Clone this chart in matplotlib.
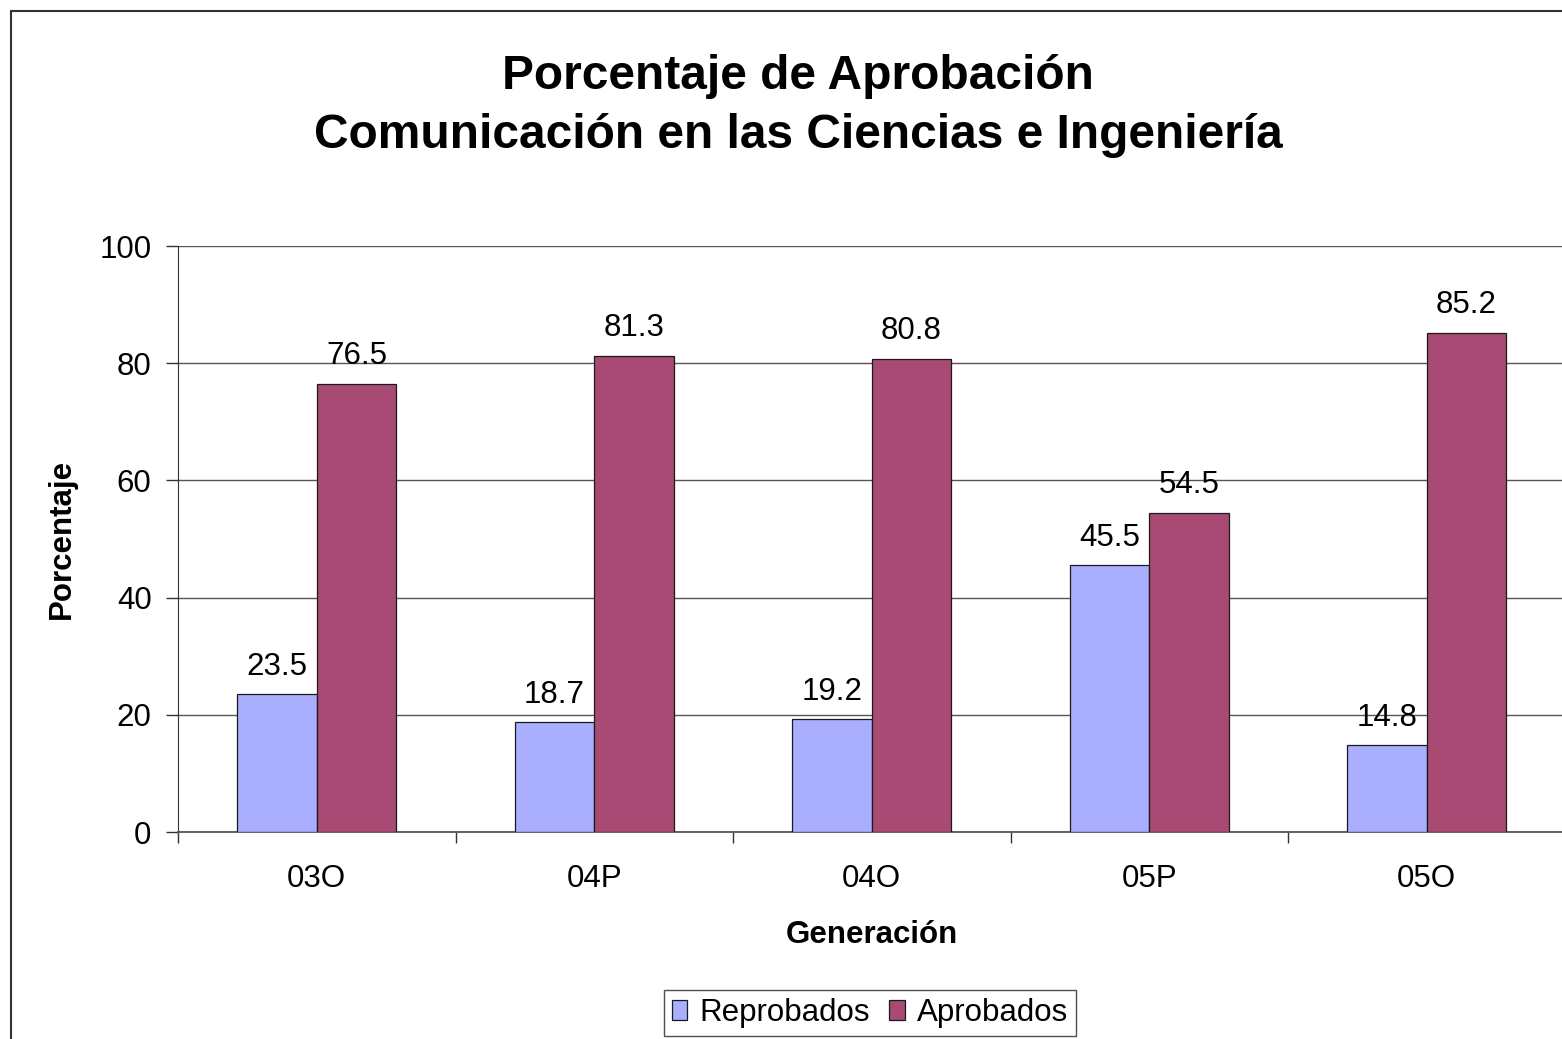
import numpy as np
import matplotlib
matplotlib.use("Agg")
import matplotlib.pyplot as plt
from matplotlib.patches import Rectangle

plt.rcParams['font.family'] = ['Liberation Sans', 'DejaVu Sans']

# data
generaciones = ['03O', '04P', '04O', '05P', '05O']
reprobados = [23.5, 18.7, 19.2, 45.5, 14.8]
aprobados = [76.5, 81.3, 80.8, 54.5, 85.2]

c_rep = '#A9AEFF'
c_apr = '#A94A74'

W, H = 1562, 1039
fig = plt.figure(figsize=(W / 100, H / 100), dpi=100)

# outer chart border (Excel style, runs off the right/bottom)
fig.patches.append(Rectangle((11 / W, -0.05), 1.2, 1 - 11 / H + 0.05,
                             transform=fig.transFigure, fill=False,
                             edgecolor='#333333', linewidth=1.5))

ax = fig.add_axes([178 / W, (H - 832) / H, 1387.5 / W, 586 / H])

x = np.arange(len(generaciones))
w = 1 / 3.5
b1 = ax.bar(x - w / 2, reprobados, w, color=c_rep, edgecolor='#1a1a1a',
            linewidth=0.9, label='Reprobados', zorder=3)
b2 = ax.bar(x + w / 2, aprobados, w, color=c_apr, edgecolor='#1a1a1a',
            linewidth=0.9, label='Aprobados', zorder=3)

for bars, vals in ((b1, reprobados), (b2, aprobados)):
    for r, v in zip(bars, vals):
        ax.annotate(f'{v:.1f}', (r.get_x() + r.get_width() / 2, v),
                    xytext=(0, 9), textcoords='offset points',
                    ha='center', va='bottom', fontsize=22.5, zorder=5)

ax.set_xlim(-0.5, len(generaciones) - 0.5)
ax.set_ylim(0, 100)
ax.set_yticks(np.arange(0, 101, 20))
ax.yaxis.grid(True, color='#555555', linewidth=1.0, zorder=0)
ax.set_axisbelow(True)

ax.set_xticks(x)
ax.set_xticklabels(generaciones, fontsize=22.5)
ax.set_xticks(np.arange(-0.5, len(generaciones)), minor=True)
ax.tick_params(axis='x', which='major', length=0, pad=23)
ax.tick_params(axis='x', which='minor', length=8, width=1, color='#333333',
               direction='out')
ax.tick_params(axis='y', length=9, width=1, color='#333333', labelsize=22.5,
               pad=10)

for s in ('top', 'right'):
    ax.spines[s].set_visible(False)
ax.spines['left'].set_color('#333333')
ax.spines['bottom'].set_color('#555555')
ax.spines['bottom'].set_linewidth(1.3)

ax.set_xlabel('Generación', fontsize=22.5, fontweight='bold', labelpad=19)
ax.set_ylabel('Porcentaje', fontsize=22.5, fontweight='bold', labelpad=16)

fig.text(798 / W, 1 - 106 / H,
         'Porcentaje de Aprobación\nComunicación en las Ciencias e Ingeniería',
         ha='center', va='center', fontsize=34.5, fontweight='bold',
         linespacing=1.42)

leg = fig.legend(handles=[b1, b2], loc='center',
                 bbox_to_anchor=(870 / W, 1 - 1013 / H), ncol=2,
                 fontsize=22.5, frameon=True, fancybox=False,
                 handlelength=0.5, handleheight=0.6, handletextpad=0.4,
                 columnspacing=0.6, borderpad=0.25, borderaxespad=0)
leg.get_frame().set_edgecolor('#222222')
leg.get_frame().set_linewidth(1.0)

fig.savefig('out.png', dpi=100, facecolor='white')
